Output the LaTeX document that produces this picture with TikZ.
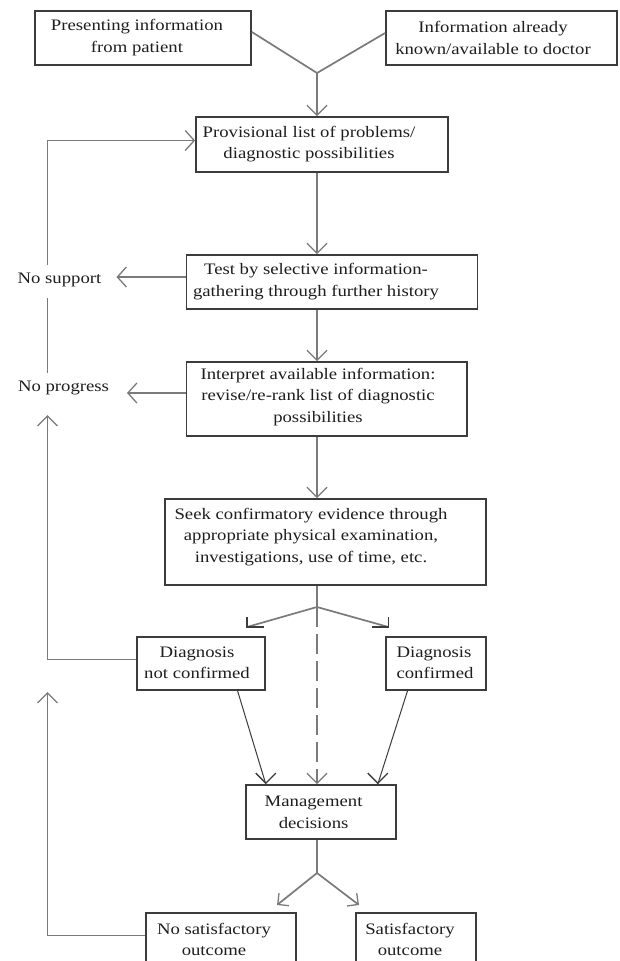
\documentclass[tikz,border=0pt]{standalone}
\usepackage{fontspec}
\setmainfont{Liberation Serif}[FakeStretch=1.17]
\usetikzlibrary{arrows.meta,calc}
\definecolor{shaft}{HTML}{7A7A7A}
\definecolor{edge}{HTML}{3C3C3C}
\definecolor{ink}{HTML}{1E1E1E}
\tikzset{
  boxnode/.style={draw=edge,line width=1.8pt,rectangle,inner sep=0pt},
  txt/.style={align=center,text=ink,font=\fontsize{16}{21.5}\selectfont,inner sep=0pt},
  tipv/.style={-{Straight Barb[length=10pt,width=20pt,line width=1.3pt]}},
  tiph/.style={-{Straight Barb[length=9pt,width=20pt,line width=1.3pt]}},
  tips/.style={-{Straight Barb[length=8pt,width=16pt,line width=1.3pt]}},
  mainln/.style={draw=shaft,line width=2.6pt},
  thinln/.style={draw=shaft,line width=1.7pt},
  darkln/.style={draw=edge,line width=1pt},
}
\begin{document}
\begin{tikzpicture}[x=1pt,y=-1pt]
\useasboundingbox (0,0) rectangle (619,961);
\clip (0,0) rectangle (619,961);
\fill[white] (0,0) rectangle (619,961);

% boxes
\node[boxnode,minimum width=216pt,minimum height=54pt] (b1) at (143,38) {};
\node[txt] (t1) at (137,37.5) {Presenting information\\from patient};
\node[boxnode,minimum width=231pt,minimum height=54pt] (b2) at (501.5,38) {};
\node[txt] (t2) at (493,38) {Information already\\known/available to doctor};
\node[boxnode,minimum width=252pt,minimum height=55pt] (b3) at (322,144.5) {};
\node[txt] (t3) at (309,144) {Provisional list of problems/\\diagnostic possibilities};
\node[boxnode,minimum width=291pt,minimum height=54pt] (b4) at (332,282) {};
\node[txt] (t4) at (316,281.5) {Test by selective information-\\gathering through further history};
\node[boxnode,minimum width=280.5pt,minimum height=74pt] (b5) at (326.75,399) {};
\node[txt] (t5) at (318,397) {Interpret available information:\\revise/re-rank list of diagnostic\\possibilities};
\node[boxnode,minimum width=321pt,minimum height=86pt] (b6) at (325.5,542) {};
\node[txt] (t6) at (311,537) {Seek confirmatory evidence through\\appropriate physical examination,\\investigations, use of time, etc.};
\node[boxnode,minimum width=128.4pt,minimum height=53pt] (nc) at (200.8,663.5) {};
\node[txt] (tnc) at (197,663) {Diagnosis\\not confirmed};
\node[boxnode,minimum width=100pt,minimum height=53pt] (dc) at (436,663.5) {};
\node[txt,align=left] (tdc) at (435,663) {Diagnosis\\confirmed};
\node[boxnode,minimum width=149.6pt,minimum height=54pt] (md) at (320.8,812) {};
\node[txt] (tmd) at (313.6,812.5) {Management\\decisions};
\node[boxnode,minimum width=150pt,minimum height=53pt] (nso) at (221,939.5) {};
\node[txt] (tnso) at (214,939.5) {No satisfactory\\outcome};
\node[boxnode,minimum width=120pt,minimum height=53pt] (so) at (416,939.5) {};
\node[txt] (tso) at (410,939.5) {Satisfactory\\outcome};

% side labels
\node[txt] (ns) at (59.5,280) {No support};
\node[txt] (np) at (63.5,388) {No progress};

% helper coordinates
\coordinate (cx) at (317,0);
\coordinate (j1) at (317,73);
\coordinate (j2) at (317,607);
\coordinate (j3) at (317,873);
\coordinate (tl) at (247,627);
\coordinate (tr) at (388.5,627);
\coordinate (bl) at (277,905);
\coordinate (br) at (359,905);
\coordinate (lx) at (47.5,0);
\coordinate (l1) at (47.5,265);
\coordinate (l2) at (47.5,298);
\coordinate (l3) at (47.5,373);
\coordinate (l4) at (47.5,415);
\coordinate (l5) at (47.5,692);
\coordinate (nsTip) at (116.5,277);
\coordinate (npTip) at (127,393);

% top merge
\draw[thinln] ($(b1.east)+(0,-6)$) -- (j1);
\draw[thinln] ($(b2.west)+(0,-5)$) -- (j1);
\draw[mainln,tipv] (j1) -- (b3.north -| cx);

% main chain
\draw[mainln,tipv] (b3.south -| cx) -- (b4.north -| cx);
\draw[mainln,tipv] (b4.south -| cx) -- (b5.north -| cx);
\draw[mainln,tipv] (b5.south -| cx) -- (b6.north -| cx);
\draw[mainln] (b6.south -| cx) -- (j2);

% split to diagnosis
\draw[thinln] (j2) -- (tl);
\draw[darkln,line width=1.3pt] ($(tl)+(0,-10)$) -- (tl) -- ($(tl)+(17,0)$);
\draw[thinln] (j2) -- (tr);
\draw[darkln,line width=1.3pt] ($(tr)+(0,-10)$) -- (tr) -- ($(tr)+(-17,0)$);

% dashed to management
\draw[mainln,dash pattern=on 20pt off 7pt,tipv] (j2) -- (md.north -| cx);

% diagnosis boxes to management
\coordinate (a1) at ($(md.north)+(-55,0)$);
\coordinate (a2) at ($(md.north)+(57,0)$);
\draw[darkln] ($(nc.south)+(36.8,0)$) -- (a1);
\draw[darkln,tipv] ($(a1)+(0,-1)$) -- (a1);
\draw[darkln] ($(dc.south)+(-28.5,0)$) -- (a2);
\draw[darkln,tipv] ($(a2)+(0,-1)$) -- (a2);

% management to outcomes
\draw[mainln] (md.south -| cx) -- (j3);
\draw[thinln,tips] (j3) -- (bl);
\draw[thinln,tips] (j3) -- (br);

% feedback loops
\draw[thinln,tiph] (l1) -- ($(lx |- b3.west)+(0,-4)$) -- ($(b3.west)+(0,-4)$);
\draw[thinln] (l3) -- (l2);
\draw[thinln,tipv] ($(nc.west)+(0,-4)$) -- ($(nc.west -| lx)+(0,-4)$) -- (l4);
\draw[thinln,tipv] ($(nso.west)+(0,-4)$) -- ($(nso.west -| lx)+(0,-4)$) -- (l5);

% side arrows
\draw[thinln,tiph] ($(b4.west)+(0,-5)$) -- (nsTip);
\draw[thinln,tiph] ($(b5.west)+(0,-6)$) -- (npTip);
\end{tikzpicture}
\end{document}
